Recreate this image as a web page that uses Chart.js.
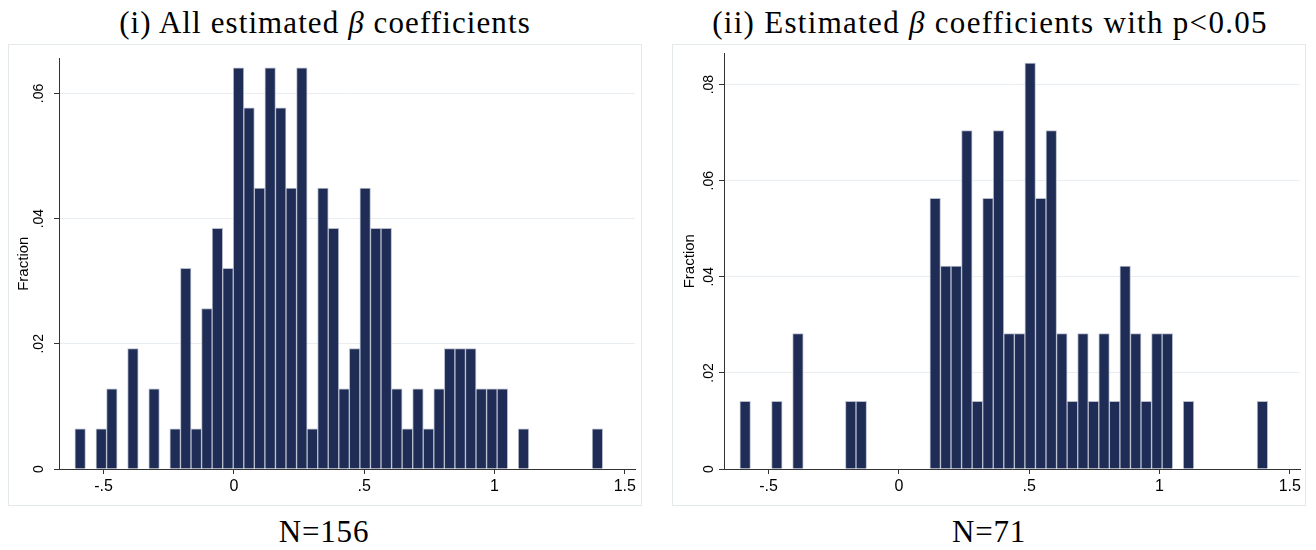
<!DOCTYPE html>
<html>
<head>
<meta charset="utf-8">
<script src="https://cdn.jsdelivr.net/npm/chart.js@4.4.1/dist/chart.umd.min.js"></script>
<style>
  body { margin: 0; background: #fff; width: 1316px; height: 550px; position: relative; overflow: hidden; }
  .box { position: absolute; top: 44px; width: 632px; height: 460px; border: 1px solid #e4e9ec; }
  .box canvas { position: absolute; left: 0; top: 0; }
  .ttl { position: absolute; font-family: "Liberation Serif", serif; font-size: 31px; line-height: 1;
         letter-spacing: 0.8px; white-space: nowrap; transform: translateX(-50%); color: #000; }
</style>
</head>
<body>
<div class="ttl" style="left:325px;top:7px;letter-spacing:1.1px">(i) All estimated <i>β</i> coefficients</div>
<div class="ttl" style="left:990px;top:7px;letter-spacing:1.3px">(ii) Estimated <i>β</i> coefficients with p&lt;0.05</div>

<div class="box" style="left:8px"><canvas id="histAll" width="632" height="460"></canvas></div>
<div class="box" style="left:672px"><canvas id="histSig" width="632" height="460"></canvas></div>

<div class="ttl" style="left:324px;top:516px">N=156</div>
<div class="ttl" style="left:989px;top:516px">N=71</div>

<script>
// bins: 50 bins of equal width starting at the smallest estimate
const binStart = -0.61;
const binWidth = 0.0405;

// counts per bin (fraction = count / N)
const countsAll = [1, 0, 1, 2, 0, 3, 0, 2, 0, 1, 5, 1, 4, 6, 5, 10, 9, 7, 10, 9,
                   7, 10, 1, 7, 6, 2, 3, 7, 6, 6, 2, 1, 2, 1, 2, 3, 3, 3, 2, 2,
                   2, 0, 1, 0, 0, 0, 0, 0, 0, 1];
const countsSig = [1, 0, 0, 1, 0, 2, 0, 0, 0, 0, 1, 1, 0, 0, 0, 0, 0, 0, 4, 3,
                   3, 5, 1, 4, 5, 2, 2, 6, 4, 5, 2, 1, 2, 1, 2, 1, 3, 2, 1, 2,
                   2, 0, 1, 0, 0, 0, 0, 0, 0, 1];
const nAll = 156;
const nSig = 71;

const xTickValues = [-0.5, 0, 0.5, 1, 1.5];
const xTickLabels = ['-.5', '0', '.5', '1', '1.5'];
const yTicksAll = [0, 0.02, 0.04, 0.06];
const yLabelsAll = ['0', '.02', '.04', '.06'];
const yTicksSig = [0, 0.02, 0.04, 0.06, 0.08];
const yLabelsSig = ['0', '.02', '.04', '.06', '.08'];

function makeHist(id, counts, n, yMax, yTicks, yLabels, axisWidth, rightPad, tickPad, titlePad) {
  const points = counts.map((c, i) => ({ x: binStart + binWidth * (i + 0.5), y: c / n }));
  new Chart(document.getElementById(id), {
    type: 'bar',
    data: {
      datasets: [{
        data: points,
        backgroundColor: '#1f2d56',
        borderColor: '#b6bccb',
        borderWidth: 1,
        barPercentage: 1,
        categoryPercentage: 1
      }]
    },
    options: {
      responsive: false,
      animation: false,
      layout: { padding: { top: 5, right: rightPad, left: 0, bottom: 0 } },
      plugins: { legend: { display: false }, tooltip: { enabled: false } },
      scales: {
        x: {
          type: 'linear',
          min: -0.671,
          max: 1.539,
          offset: false,
          afterBuildTicks: s => { s.ticks = xTickValues.map(v => ({ value: v })); },
          afterFit: s => { s.height = 36; },
          ticks: {
            callback: (v, i) => xTickLabels[i],
            font: { family: 'Liberation Sans', size: 16 },
            color: '#000',
            padding: 3,
            maxRotation: 0,
            autoSkip: false
          },
          grid: { offset: false, drawOnChartArea: false, tickLength: 5, tickColor: '#333' },
          border: { display: true, color: '#333', width: 1 }
        },
        y: {
          min: 0,
          max: yMax,
          afterBuildTicks: s => { s.ticks = yTicks.map(v => ({ value: v })); },
          afterFit: s => { s.width = axisWidth; },
          ticks: {
            callback: (v, i) => yLabels[i],
            font: { family: 'Liberation Sans', size: 14 },
            color: '#000',
            minRotation: 90,
            maxRotation: 90,
            crossAlign: 'center',
            padding: tickPad,
            autoSkip: false
          },
          grid: {
            color: c => (c.tick && c.tick.value === 0) ? 'rgba(0,0,0,0)' : '#e8eef1',
            tickLength: 5,
            tickColor: '#333'
          },
          border: { display: true, color: '#333', width: 1 },
          title: {
            display: true,
            text: 'Fraction',
            font: { family: 'Liberation Sans', size: 15 },
            color: '#000',
            padding: { top: titlePad, bottom: 0 }
          }
        }
      }
    }
  });
}

makeHist('histAll', countsAll, nAll, 0.0656, yTicksAll, yLabelsAll, 50, 6, 5, 6);
makeHist('histSig', countsSig, nSig, 0.0865, yTicksSig, yLabelsSig, 51, 5, 0, 8);
</script>
</body>
</html>
